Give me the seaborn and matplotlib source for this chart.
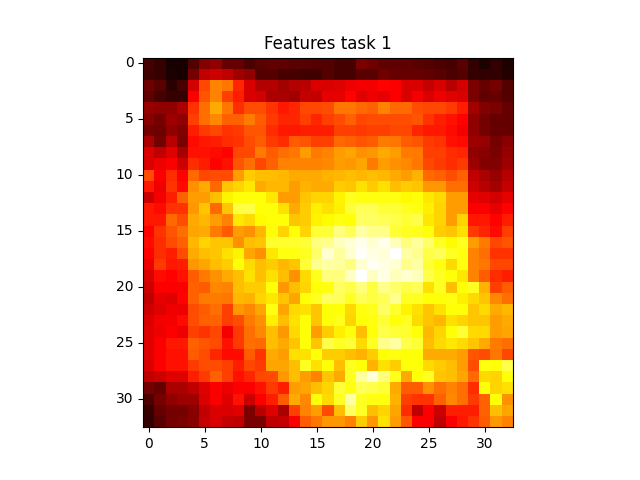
import numpy as np
import matplotlib
matplotlib.use("Agg")
import matplotlib.pyplot as plt
import seaborn as sns

# values, 0-100 on the hot colormap
features = [
    [9,7,2,2,11,18,20,14,14,10,12,13,13,12,12,11,11,9,9,17,15,13,13,13,12,11,10,9,12,6,3,6,3],
    [8,7,3,2,16,27,29,27,22,20,11,11,9,9,8,8,11,9,9,12,12,15,14,14,14,13,12,10,11,7,6,6,4],
    [15,12,5,9,30,47,56,54,42,31,25,25,23,25,26,31,31,32,34,35,35,37,36,31,31,28,31,26,30,17,14,16,11],
    [13,9,7,7,36,49,56,46,41,31,30,24,24,22,28,27,33,33,37,32,34,33,36,31,35,31,34,32,31,17,13,14,11],
    [21,20,20,24,44,53,62,54,43,48,48,44,40,42,47,47,48,54,54,52,51,56,52,52,48,47,47,45,41,23,18,17,14],
    [19,16,22,20,46,53,57,51,51,55,50,45,42,42,46,42,46,48,51,47,48,48,48,48,49,44,41,39,37,20,16,14,14],
    [16,15,20,18,41,45,47,44,45,49,49,43,40,40,41,41,41,46,46,45,46,46,47,47,42,40,40,38,35,20,16,14,14],
    [24,16,26,17,38,40,41,43,44,48,50,45,43,50,49,46,46,52,51,49,50,55,54,50,49,45,44,39,38,22,21,16,19],
    [31,27,32,23,39,39,38,37,47,47,55,50,53,54,60,55,56,60,61,58,59,62,60,55,55,46,46,43,42,20,19,17,21],
    [31,34,36,29,43,41,37,39,49,53,47,51,56,56,56,56,57,60,59,61,55,60,58,57,54,47,45,43,45,22,18,18,22],
    [48,36,43,37,52,47,48,48,60,67,65,65,64,62,62,62,63,64,65,64,65,64,62,60,63,52,51,48,51,27,24,21,26],
    [40,34,44,38,58,62,52,66,68,71,62,64,64,60,63,62,62,67,66,70,67,70,65,67,66,59,59,53,53,29,26,23,28],
    [29,35,41,51,60,60,65,73,75,75,75,71,60,60,66,68,68,73,78,76,76,76,76,74,75,71,69,60,60,33,32,30,33],
    [40,38,44,44,59,66,52,66,81,82,75,75,70,62,67,72,70,72,80,83,83,80,80,78,76,72,68,60,60,36,36,33,37],
    [40,40,52,48,62,64,60,56,71,69,74,75,75,66,67,73,74,76,75,84,84,83,82,80,82,71,68,60,68,40,40,37,41],
    [37,44,49,53,61,62,55,50,60,58,64,75,68,75,68,80,80,87,83,91,88,88,80,78,77,75,67,66,70,45,42,38,46],
    [38,43,48,51,64,68,66,66,58,65,66,79,79,79,80,87,88,93,96,98,95,98,93,87,90,85,78,74,78,60,55,47,49],
    [37,43,41,48,62,65,66,70,73,61,58,71,76,76,78,85,95,90,95,99,97,96,100,91,89,82,83,78,76,56,53,44,44],
    [34,45,40,41,59,61,65,67,75,69,65,67,64,66,80,89,91,90,87,95,99,97,95,88,91,80,76,69,76,56,54,47,47],
    [31,38,37,39,50,55,58,62,65,70,65,70,65,58,69,77,87,87,94,100,94,97,93,95,93,82,78,75,71,56,50,43,41],
    [29,36,36,36,51,50,57,56,65,67,67,75,59,65,68,75,76,84,82,87,81,88,85,82,83,70,78,65,75,78,63,46,50],
    [27,33,32,37,51,55,55,54,64,63,68,71,66,61,75,78,84,83,78,83,81,83,89,78,78,75,75,76,72,69,66,57,53],
    [29,32,34,34,48,50,53,46,59,57,61,76,61,69,70,66,75,75,69,76,77,84,79,73,70,66,70,75,75,66,69,62,64],
    [31,35,35,38,48,51,51,46,48,55,58,72,65,70,75,66,75,77,68,75,76,80,75,78,69,66,64,70,68,66,66,60,62],
    [32,34,36,34,46,44,47,35,45,53,57,65,59,69,75,60,67,72,75,65,75,82,80,79,75,64,68,75,80,69,69,60,61],
    [32,36,40,40,51,49,48,39,45,53,52,65,62,66,75,66,82,78,80,69,78,88,91,82,80,65,69,71,69,66,62,55,53],
    [32,36,39,39,50,48,42,38,38,50,44,62,60,70,70,75,67,67,65,63,67,75,76,75,75,62,62,62,60,49,48,54,47],
    [31,36,39,39,45,48,48,46,41,47,45,61,61,65,78,70,75,65,78,75,63,70,67,75,75,69,67,65,60,48,76,75,82],
    [27,29,32,32,41,45,51,46,39,42,47,48,59,65,60,56,66,62,78,90,96,87,77,62,75,78,66,65,61,52,69,68,75],
    [16,14,24,24,27,32,36,34,36,36,39,45,41,60,61,65,68,80,76,83,82,80,62,50,50,58,53,56,53,43,75,68,70],
    [10,16,20,22,22,31,36,32,39,29,36,41,50,62,57,75,69,78,91,78,76,76,63,46,44,44,51,57,53,45,51,75,58],
    [7,14,16,16,19,27,31,31,32,17,26,32,24,46,56,60,48,65,84,78,65,68,61,43,27,36,29,41,41,41,51,65,61],
    [6,12,16,17,19,28,31,28,27,17,17,27,28,36,50,54,59,59,56,67,59,70,60,49,36,36,27,36,40,44,50,59,56],
]
tick_values = [0, 5, 10, 15, 20, 25, 30]

features = np.array(features)
print(features.shape)

fig, ax = plt.subplots(figsize=(6.4, 4.8), dpi=100)
sns.heatmap(features, cmap="hot", vmin=0, vmax=100, cbar=False, square=True, ax=ax)
ax.set_xticks([t + 0.5 for t in tick_values])
ax.set_xticklabels(tick_values, rotation=0)
ax.set_yticks([t + 0.5 for t in tick_values])
ax.set_yticklabels(tick_values, rotation=0)
for spine in ax.spines.values():
    spine.set_visible(True)
ax.set_title("Features task 1")
fig.savefig("out.png", dpi=100)
